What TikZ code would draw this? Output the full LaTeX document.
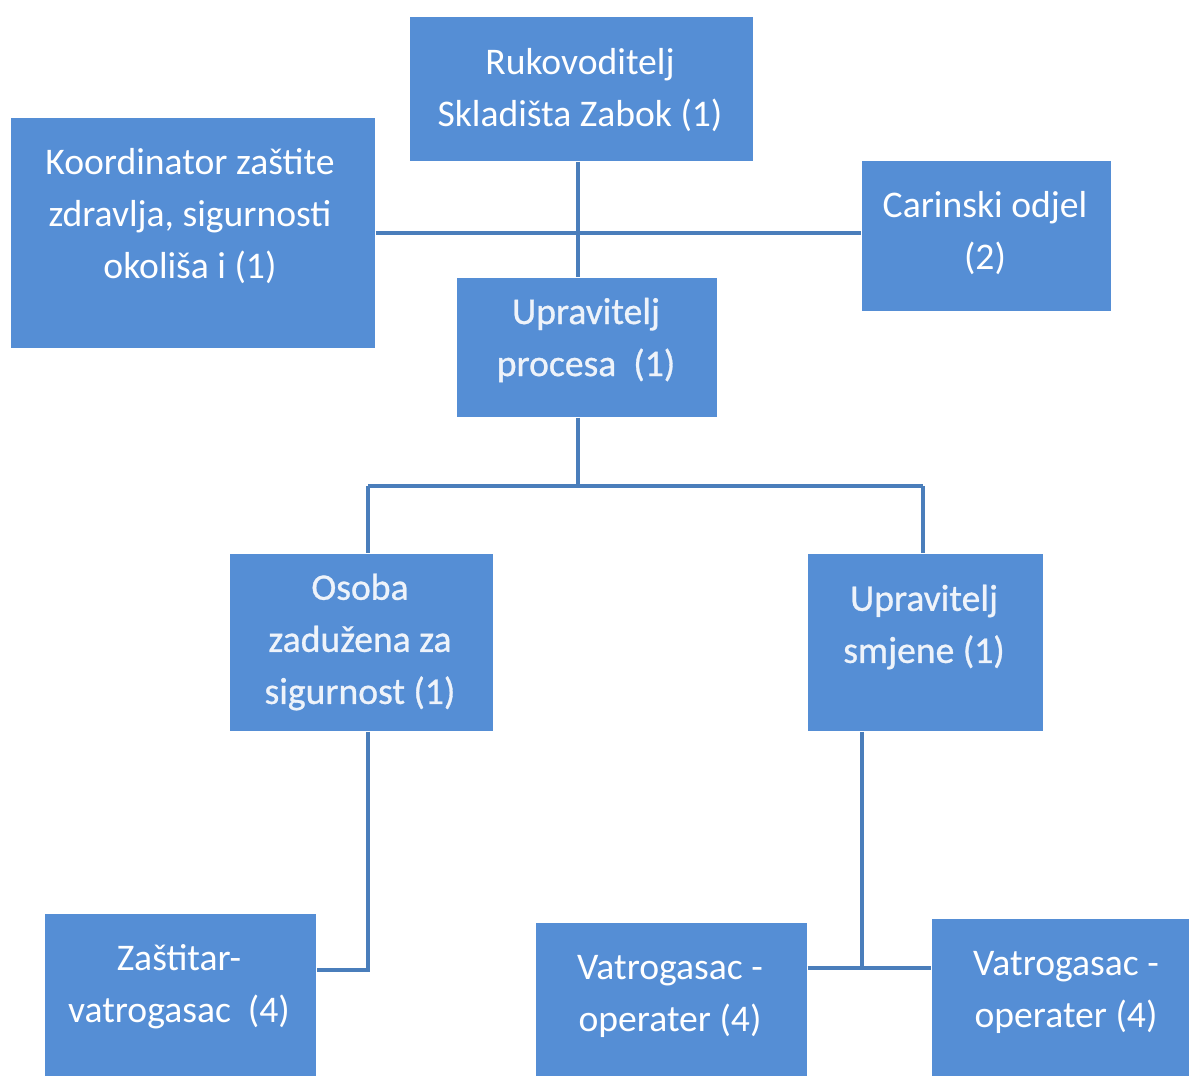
\documentclass[tikz,border=0pt]{standalone}
\usepackage{fontspec}
\setmainfont{Carlito}
\newfontfamily\semibold[FakeBold=0.8]{Carlito}
\definecolor{boxblue}{HTML}{558ED5}
\definecolor{linkblue}{HTML}{4A7EBB}
\definecolor{paletext}{HTML}{EEF3FA}
\begin{document}
\begin{tikzpicture}[x=0.01cm,y=-0.01cm,
  box/.style={fill=boxblue,draw=none,inner sep=0pt,anchor=north west},
  label/.style={text=white,align=center,inner sep=0pt,
    font=\fontsize{10.7pt}{14.8pt}\selectfont},
  softlabel/.style={label,text=paletext,
    font=\fontsize{10.7pt}{14.8pt}\selectfont\semibold},
  link/.style={draw=linkblue,line width=1.15pt}]
\useasboundingbox (0,0) rectangle (1189,1075);

% boxes, positioned by their top-left corners (sizes in cm)
\node[box,minimum width=3.43cm,minimum height=1.44cm] (ruk) at (409,16) {};
\node[box,minimum width=3.64cm,minimum height=2.30cm] (koord) at (10,117) {};
\node[box,minimum width=2.49cm,minimum height=1.50cm] (car) at (861,160) {};
\node[box,minimum width=2.60cm,minimum height=1.39cm] (proc) at (456,277) {};
\node[box,minimum width=2.63cm,minimum height=1.77cm] (osoba) at (229,553) {};
\node[box,minimum width=2.35cm,minimum height=1.77cm] (smj) at (807,553) {};
\node[box,minimum width=2.71cm,minimum height=1.62cm] (zast) at (44,913) {};
\node[box,minimum width=2.71cm,minimum height=1.53cm] (vat1) at (535,922) {};
\node[box,minimum width=2.58cm,minimum height=1.57cm] (vat2) at (931,918) {};

% texts
\node[label] (tRuk) at (580,90) {Rukovoditelj\\Skladišta Zabok (1)};
\node[label] (tKoord) at (190,216) {Koordinator zaštite\\zdravlja, sigurnosti\\okoliša i (1)};
\node[label] (tCar) at (985,233) {Carinski odjel\\(2)};
\node[softlabel] (tProc) at (586,340) {Upravitelj\\procesa\ \ (1)};
\node[softlabel] (tOsoba) at (360,642) {Osoba\\zadužena za\\sigurnost (1)};
\node[softlabel] (tSmj) at (924,627) {Upravitelj\\smjene (1)};
\node[label] (tZast) at (179,987) {Zaštitar-\\vatrogasac\ \ (4)};
\node[label] (tVat1) at (670,996) {Vatrogasac -\\operater (4)};
\node[label] (tVat2) at (1066,992) {Vatrogasac -\\operater (4)};

% junction points of the connectors
\coordinate (jTop) at (578,233);
\coordinate (jMid) at (578,486);
\coordinate (jLeft) at (368,486);
\coordinate (jRight) at (923,486);
\coordinate (jZast) at (368,970);
\coordinate (jVat) at (862,968);

% connectors
\draw[link] (ruk.south -| jTop) -- (proc.north -| jTop);
\draw[link] (koord.east |- jTop) -- (car.west |- jTop);
\draw[link] (proc.south -| jMid) -- (jMid);
\draw[link] (jLeft) -- (jRight);
\draw[link] (jLeft) -- (osoba.north -| jLeft);
\draw[link] (jRight) -- (smj.north -| jRight);
\draw[link] (osoba.south -| jZast) -- (jZast) -- (zast.east |- jZast);
\draw[link] (smj.south -| jVat) -- (jVat);
\draw[link] (vat1.east |- jVat) -- (vat2.west |- jVat);
\end{tikzpicture}
\end{document}
